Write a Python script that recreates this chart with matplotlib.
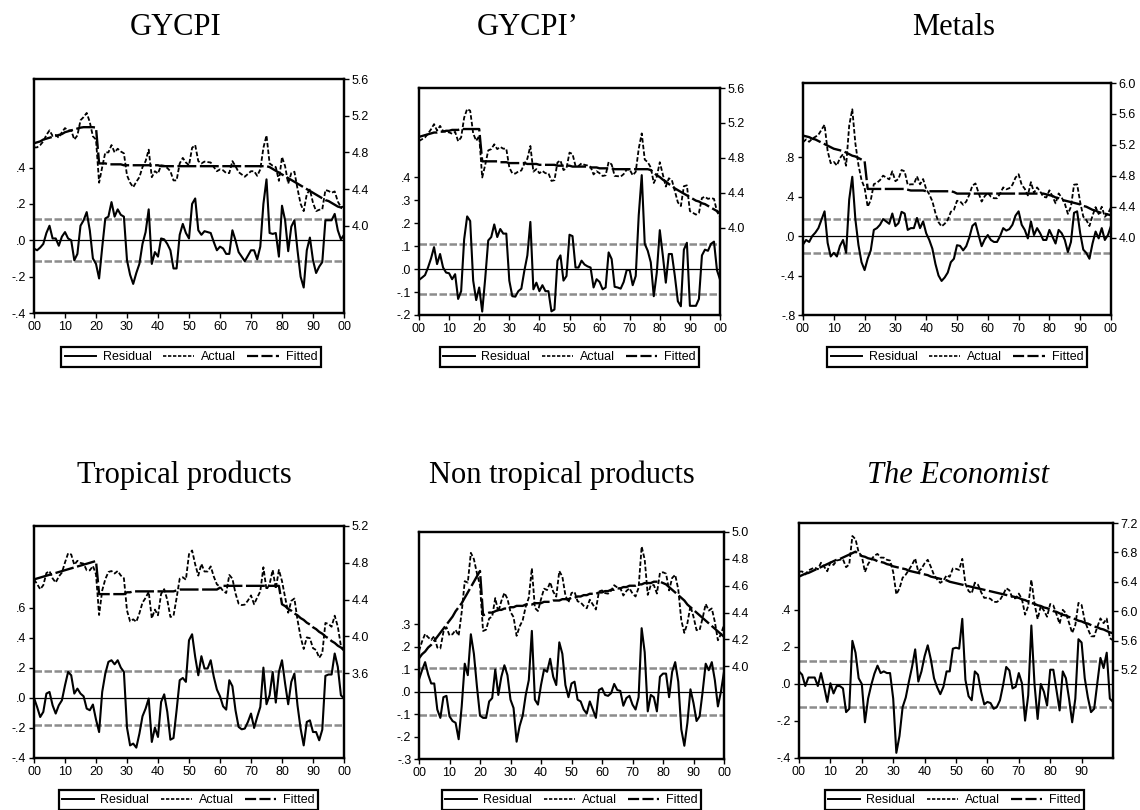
import numpy as np
import matplotlib
matplotlib.use("Agg")
import matplotlib.pyplot as plt
from matplotlib.ticker import FuncFormatter
from matplotlib.lines import Line2D

years = np.arange(1900, 2001)

# residuals (left axis) and fitted values (right axis)
gycpi_resid = [-0.046, -0.055, -0.040, -0.020, 0.040, 0.080, 0.010, 0.010, -0.030, 0.020,
               0.045, 0.010, 0.000, -0.110, -0.075, 0.080, 0.110, 0.155, 0.055, -0.100,
               -0.130, -0.210, -0.040, 0.120, 0.130, 0.210, 0.130, 0.170, 0.140, 0.130,
               -0.110, -0.190, -0.240, -0.180, -0.130, -0.020, 0.045, 0.170, -0.130, -0.065,
               -0.090, 0.010, 0.005, -0.020, -0.055, -0.155, -0.155, 0.030, 0.090, 0.040,
               0.010, 0.200, 0.230, 0.055, 0.030, 0.050, 0.045, 0.040, -0.010, -0.055,
               -0.035, -0.045, -0.075, -0.075, 0.055, 0.000, -0.065, -0.090, -0.115, -0.085,
               -0.055, -0.055, -0.105, -0.035, 0.200, 0.335, 0.040, 0.035, 0.040, -0.090,
               0.190, 0.110, -0.060, 0.075, 0.110, -0.055, -0.200, -0.260, -0.055, 0.015,
               -0.110, -0.180, -0.145, -0.120, 0.110, 0.110, 0.110, 0.145, 0.055, 0.005,
               0.030]
gycpi_fit = [4.90, 4.91, 4.92, 4.94, 4.95, 4.96, 4.97, 4.98, 4.99, 5.00,
             5.02, 5.03, 5.04, 5.05, 5.06, 5.07, 5.075, 5.075, 5.075, 5.075,
             5.07, 4.68, 4.68, 4.68, 4.67, 4.67, 4.67, 4.67, 4.67, 4.66,
             4.66, 4.66, 4.66, 4.66, 4.66, 4.66, 4.66, 4.66, 4.66, 4.66,
             4.66, 4.65, 4.65, 4.65, 4.65, 4.65, 4.65, 4.65, 4.65, 4.65,
             4.65, 4.65, 4.65, 4.65, 4.65, 4.65, 4.65, 4.65, 4.65, 4.65,
             4.65, 4.65, 4.65, 4.65, 4.65, 4.65, 4.65, 4.65, 4.65, 4.65,
             4.65, 4.65, 4.65, 4.65, 4.65, 4.65, 4.64, 4.62, 4.60, 4.58,
             4.56, 4.54, 4.52, 4.50, 4.48, 4.46, 4.44, 4.42, 4.40, 4.38,
             4.36, 4.34, 4.32, 4.30, 4.28, 4.27, 4.25, 4.23, 4.21, 4.20,
             4.18]

gycpi2_resid = [-0.047, -0.037, -0.026, 0.007, 0.047, 0.096, 0.022, 0.066, 0.007, -0.015,
                -0.018, -0.044, -0.022, -0.130, -0.096, 0.130, 0.230, 0.210, -0.050, -0.135,
                -0.080, -0.185, -0.040, 0.125, 0.140, 0.195, 0.140, 0.175, 0.155, 0.155,
                -0.050, -0.118, -0.120, -0.096, -0.085, -0.007, 0.060, 0.206, -0.088, -0.059,
                -0.096, -0.070, -0.096, -0.096, -0.184, -0.176, 0.037, 0.060, -0.050, -0.030,
                0.150, 0.144, 0.007, 0.007, 0.037, 0.020, 0.012, 0.007, -0.080, -0.044,
                -0.056, -0.088, -0.080, 0.073, 0.044, -0.077, -0.080, -0.085, -0.056, -0.004,
                -0.004, -0.070, -0.030, 0.235, 0.410, 0.110, 0.080, 0.030, -0.118, -0.015,
                0.170, 0.060, -0.059, 0.066, 0.066, -0.030, -0.140, -0.162, 0.085, 0.115,
                -0.160, -0.160, -0.160, -0.130, 0.060, 0.085, 0.080, 0.110, 0.120, -0.005,
                -0.045]
gycpi2_fit = [5.04, 5.05, 5.06, 5.07, 5.08, 5.09, 5.09, 5.10, 5.10, 5.11,
              5.11, 5.12, 5.12, 5.12, 5.13, 5.13, 5.13, 5.13, 5.13, 5.13,
              5.13, 4.76, 4.76, 4.76, 4.76, 4.76, 4.76, 4.75, 4.75, 4.75,
              4.74, 4.74, 4.74, 4.74, 4.74, 4.74, 4.73, 4.73, 4.73, 4.73,
              4.72, 4.72, 4.72, 4.72, 4.72, 4.72, 4.71, 4.71, 4.71, 4.71,
              4.71, 4.70, 4.70, 4.70, 4.70, 4.70, 4.70, 4.69, 4.69, 4.69,
              4.68, 4.68, 4.68, 4.68, 4.68, 4.67, 4.67, 4.67, 4.67, 4.67,
              4.67, 4.67, 4.67, 4.67, 4.67, 4.67, 4.67, 4.66, 4.63, 4.60,
              4.58, 4.55, 4.53, 4.50, 4.48, 4.45, 4.43, 4.41, 4.39, 4.37,
              4.35, 4.33, 4.31, 4.30, 4.28, 4.27, 4.25, 4.23, 4.21, 4.19,
              4.17]

metals_resid = [-0.086, -0.040, -0.060, 0.000, 0.034, 0.080, 0.165, 0.250, -0.070, -0.207,
                -0.170, -0.207, -0.100, -0.040, -0.170, 0.370, 0.600, 0.170, -0.090, -0.265,
                -0.345, -0.230, -0.145, 0.062, 0.080, 0.114, 0.172, 0.148, 0.124, 0.228,
                0.100, 0.130, 0.245, 0.228, 0.062, 0.080, 0.080, 0.183, 0.080, 0.148,
                0.028, -0.040, -0.128, -0.283, -0.400, -0.455, -0.420, -0.370, -0.265, -0.230,
                -0.093, -0.100, -0.145, -0.103, -0.014, 0.103, 0.131, 0.010, -0.103, -0.034,
                0.010, -0.040, -0.060, -0.060, 0.000, 0.080, 0.055, 0.070, 0.114, 0.207,
                0.250, 0.114, 0.062, -0.024, 0.148, 0.010, 0.080, 0.028, -0.040, -0.040,
                0.062, -0.007, -0.076, 0.062, 0.028, -0.040, -0.162, -0.060, 0.235, 0.250,
                0.028, -0.138, -0.172, -0.230, -0.076, 0.045, -0.024, 0.080, -0.040, 0.010,
                0.103]
metals_fit = [5.32, 5.31, 5.30, 5.28, 5.27, 5.25, 5.23, 5.21, 5.19, 5.17,
              5.15, 5.14, 5.13, 5.12, 5.10, 5.08, 5.06, 5.05, 5.03, 5.01,
              4.99, 4.63, 4.63, 4.63, 4.63, 4.63, 4.63, 4.63, 4.63, 4.63,
              4.63, 4.63, 4.63, 4.63, 4.62, 4.61, 4.61, 4.61, 4.61, 4.61,
              4.60, 4.60, 4.60, 4.60, 4.60, 4.60, 4.60, 4.60, 4.60, 4.59,
              4.57, 4.57, 4.57, 4.57, 4.57, 4.57, 4.57, 4.57, 4.57, 4.57,
              4.57, 4.57, 4.57, 4.57, 4.57, 4.57, 4.57, 4.57, 4.57, 4.57,
              4.57, 4.57, 4.57, 4.57, 4.57, 4.57, 4.57, 4.57, 4.57, 4.56,
              4.55, 4.54, 4.52, 4.51, 4.49, 4.48, 4.47, 4.46, 4.45, 4.44,
              4.43, 4.41, 4.40, 4.38, 4.36, 4.35, 4.33, 4.32, 4.31, 4.30,
              4.29]

tropical_resid = [0.000, -0.060, -0.127, -0.093, 0.029, 0.040, -0.049, -0.104, -0.049, -0.016,
                  0.084, 0.173, 0.151, 0.029, 0.062, 0.029, 0.011, -0.071, -0.082, -0.044,
                  -0.144, -0.227, 0.040, 0.162, 0.240, 0.251, 0.224, 0.251, 0.202, 0.173,
                  -0.198, -0.316, -0.304, -0.331, -0.238, -0.122, -0.071, -0.004, -0.293, -0.198,
                  -0.260, -0.027, 0.024, -0.093, -0.278, -0.267, -0.082, 0.118, 0.133, 0.107,
                  0.384, 0.424, 0.273, 0.151, 0.278, 0.196, 0.196, 0.251, 0.140, 0.056,
                  0.011, -0.056, -0.078, 0.118, 0.078, -0.082, -0.193, -0.209, -0.204, -0.160,
                  -0.104, -0.200, -0.127, -0.060, 0.202, -0.042, 0.018, 0.173, -0.031, 0.173,
                  0.251, 0.096, -0.042, 0.107, 0.162, -0.049, -0.204, -0.316, -0.160, -0.149,
                  -0.227, -0.227, -0.282, -0.211, 0.147, 0.156, 0.156, 0.296, 0.207, 0.018,
                  -0.004]
tropical_fit = [4.62, 4.63, 4.64, 4.65, 4.66, 4.67, 4.68, 4.69, 4.70, 4.71,
                4.72, 4.73, 4.74, 4.75, 4.76, 4.77, 4.78, 4.79, 4.80, 4.81,
                4.82, 4.46, 4.46, 4.46, 4.46, 4.46, 4.46, 4.46, 4.46, 4.46,
                4.48, 4.48, 4.49, 4.49, 4.49, 4.49, 4.49, 4.49, 4.49, 4.49,
                4.49, 4.49, 4.49, 4.49, 4.49, 4.49, 4.50, 4.51, 4.51, 4.51,
                4.51, 4.51, 4.51, 4.51, 4.51, 4.51, 4.51, 4.51, 4.51, 4.51,
                4.53, 4.55, 4.55, 4.55, 4.55, 4.55, 4.55, 4.55, 4.55, 4.55,
                4.55, 4.55, 4.55, 4.55, 4.55, 4.55, 4.55, 4.55, 4.55, 4.55,
                4.35, 4.33, 4.30, 4.28, 4.25, 4.23, 4.20, 4.18, 4.15, 4.13,
                4.10, 4.08, 4.05, 4.03, 4.00, 3.98, 3.95, 3.93, 3.90, 3.88,
                3.85]

nontrop_resid = [0.054, 0.095, 0.131, 0.076, 0.036, 0.036, -0.080, -0.117, -0.025, -0.019,
                 -0.110, -0.131, -0.139, -0.212, -0.066, 0.124, 0.073, 0.255, 0.168, 0.022,
                 -0.107, -0.117, -0.117, -0.044, -0.029, 0.098, -0.015, 0.066, 0.117, 0.073,
                 -0.036, -0.073, -0.223, -0.153, -0.107, -0.015, 0.051, 0.270, -0.036, -0.058,
                 0.029, 0.098, 0.088, 0.146, 0.066, 0.029, 0.219, 0.168, 0.029, -0.025,
                 0.036, 0.044, -0.036, -0.044, -0.080, -0.098, -0.044, -0.080, -0.117, 0.007,
                 0.015, -0.015, -0.019, -0.007, 0.034, 0.007, 0.003, -0.063, -0.029, -0.019,
                 -0.058, -0.080, -0.025, 0.282, 0.175, -0.088, -0.015, -0.025, -0.088, 0.066,
                 0.080, 0.080, -0.025, 0.088, 0.131, 0.044, -0.168, -0.241, -0.139, 0.010,
                 -0.051, -0.131, -0.110, 0.000, 0.124, 0.095, 0.131, 0.051, -0.066, 0.000,
                 0.088]
nontrop_fit = [4.06, 4.09, 4.11, 4.14, 4.16, 4.19, 4.22, 4.25, 4.28, 4.31,
               4.34, 4.37, 4.41, 4.44, 4.47, 4.51, 4.55, 4.59, 4.63, 4.67,
               4.71, 4.38, 4.39, 4.40, 4.40, 4.41, 4.42, 4.42, 4.43, 4.43,
               4.44, 4.44, 4.45, 4.45, 4.45, 4.46, 4.46, 4.46, 4.47, 4.47,
               4.47, 4.48, 4.48, 4.48, 4.49, 4.49, 4.49, 4.50, 4.50, 4.50,
               4.51, 4.51, 4.52, 4.52, 4.53, 4.53, 4.54, 4.54, 4.54, 4.55,
               4.55, 4.56, 4.56, 4.57, 4.57, 4.58, 4.58, 4.59, 4.59, 4.60,
               4.60, 4.60, 4.61, 4.61, 4.62, 4.62, 4.62, 4.63, 4.63, 4.63,
               4.62, 4.61, 4.59, 4.57, 4.55, 4.53, 4.51, 4.49, 4.46, 4.44,
               4.42, 4.40, 4.38, 4.36, 4.34, 4.32, 4.30, 4.28, 4.26, 4.24,
               4.22]

econ_resid = [0.068, 0.050, -0.011, 0.035, 0.035, 0.035, -0.011, 0.059, -0.015, -0.097,
              0.004, -0.051, -0.011, -0.011, -0.024, -0.152, -0.134, 0.233, 0.169, 0.031,
              0.000, -0.207, -0.079, -0.006, 0.055, 0.099, 0.059, 0.068, 0.059, 0.059,
              -0.079, -0.372, -0.281, -0.125, -0.073, 0.013, 0.092, 0.187, 0.013, 0.068,
              0.150, 0.209, 0.132, 0.031, -0.018, -0.055, -0.015, 0.068, 0.068, 0.191,
              0.196, 0.191, 0.352, 0.022, -0.066, -0.088, 0.068, 0.050, -0.042, -0.110,
              -0.097, -0.103, -0.134, -0.125, -0.088, -0.006, 0.092, 0.073, -0.024, -0.015,
              0.059, 0.004, -0.198, -0.061, 0.316, 0.000, -0.189, 0.000, -0.042, -0.116,
              0.077, 0.077, -0.033, -0.143, 0.068, 0.031, -0.079, -0.207, -0.079, 0.242,
              0.224, 0.031, -0.073, -0.152, -0.134, 0.004, 0.141, 0.086, 0.169, -0.079,
              -0.097]
econ_fit = [6.47, 6.49, 6.51, 6.52, 6.54, 6.56, 6.58, 6.60, 6.62, 6.64,
            6.66, 6.68, 6.70, 6.71, 6.73, 6.75, 6.77, 6.79, 6.81, 6.77,
            6.75, 6.74, 6.72, 6.71, 6.70, 6.68, 6.67, 6.66, 6.64, 6.63,
            6.61, 6.60, 6.59, 6.58, 6.57, 6.55, 6.54, 6.53, 6.52, 6.51,
            6.50, 6.49, 6.47, 6.46, 6.45, 6.44, 6.43, 6.42, 6.40, 6.39,
            6.38, 6.37, 6.36, 6.35, 6.34, 6.33, 6.32, 6.31, 6.30, 6.29,
            6.28, 6.27, 6.26, 6.25, 6.24, 6.23, 6.22, 6.21, 6.20, 6.19,
            6.18, 6.16, 6.15, 6.13, 6.11, 6.10, 6.08, 6.07, 6.05, 6.04,
            6.02, 6.00, 5.99, 5.97, 5.95, 5.94, 5.92, 5.91, 5.89, 5.87,
            5.86, 5.84, 5.83, 5.81, 5.79, 5.78, 5.76, 5.75, 5.73, 5.71,
            5.70]

titles = ["GYCPI", "GYCPI\u2019", "Metals",
          "Tropical products", "Non tropical products", "The Economist"]
std_err = [0.115, 0.11, 0.175, 0.18, 0.106, 0.125]
resids = [gycpi_resid, gycpi2_resid, metals_resid, tropical_resid, nontrop_resid, econ_resid]
fits = [gycpi_fit, gycpi2_fit, metals_fit, tropical_fit, nontrop_fit, econ_fit]

left_ticks = [[-0.4, -0.2, 0.0, 0.2, 0.4],
              [-0.2, -0.1, 0.0, 0.1, 0.2, 0.3, 0.4],
              [-0.8, -0.4, 0.0, 0.4, 0.8],
              [-0.4, -0.2, 0.0, 0.2, 0.4, 0.6],
              [-0.3, -0.2, -0.1, 0.0, 0.1, 0.2, 0.3],
              [-0.4, -0.2, 0.0, 0.2, 0.4]]
right_ticks = [[4.0, 4.4, 4.8, 5.2, 5.6],
               [4.0, 4.4, 4.8, 5.2, 5.6],
               [4.0, 4.4, 4.8, 5.2, 5.6, 6.0],
               [3.6, 4.0, 4.4, 4.8, 5.2],
               [4.0, 4.2, 4.4, 4.6, 4.8, 5.0],
               [5.2, 5.6, 6.0, 6.4, 6.8, 7.2]]
left_lims = [(-0.4, 0.887), (-0.2, 0.79), (-0.8, 1.55), (-0.4, 1.145), (-0.3, 0.71), (-0.4, 0.87)]
right_lims = [(3.05, 5.6), (3.0, 5.6), (3.0, 6.0), (2.68, 5.2), (3.31, 5.0), (4.0, 7.2)]
x_ticks = [list(range(1900, 2001, 10))] * 5 + [list(range(1900, 1991, 10))]

# layout in pixels: (left, right, top, bottom), legend box, title centre / baseline
W, H = 1140, 810
axes_px = [(34, 344, 79, 313), (419, 720, 88, 315), (803, 1111, 83, 315),
           (34, 344, 526, 758), (419, 724, 532, 759), (799, 1113, 523, 758)]
legend_px = [(64, 318, 347, 367), (448, 691, 347, 367), (833, 1081, 347, 367),
             (64, 313, 791, 809), (448, 695, 791, 809), (828, 1081, 791, 809)]
title_px = [(176, 35), (528, 35), (954, 35), (184, 483), (562, 483), (958, 483)]

plt.rcParams['font.family'] = ['Liberation Sans', 'DejaVu Sans']

fig = plt.figure(figsize=(W / 100, H / 100), dpi=100)


def left_fmt(v, pos):
    return f"{v:.1f}".replace("0.", ".")


for i in range(6):
    l, r, t, b = axes_px[i]
    ax = fig.add_axes([l / W, 1 - b / H, (r - l) / W, (b - t) / H])
    ax2 = ax.twinx()

    resid = np.array(resids[i])
    fitted = np.array(fits[i])
    actual = fitted + resid  # residual = actual - fitted

    ax.axhline(0, color="black", lw=0.9, zorder=1)
    ax.axhline(std_err[i], color="#8c8c8c", lw=1.8, ls=(0, (3, 1)), zorder=1)
    ax.axhline(-std_err[i], color="#8c8c8c", lw=1.8, ls=(0, (3, 1)), zorder=1)
    ax.plot(years, resid, color="black", lw=1.5, zorder=3)
    ax2.plot(years, actual, color="black", lw=1.3, ls=(0, (2.5, 1.2)))
    ax2.plot(years, fitted, color="black", lw=1.7, ls=(0, (8, 1.5)))

    ax.set_xlim(1900, 2000)
    ax.set_ylim(*left_lims[i])
    ax2.set_ylim(*right_lims[i])
    ax.set_yticks(left_ticks[i])
    ax2.set_yticks(right_ticks[i])
    ax.set_xticks(x_ticks[i])
    ax.yaxis.set_major_formatter(FuncFormatter(left_fmt))
    ax2.yaxis.set_major_formatter(FuncFormatter(lambda v, p: f"{v:.1f}"))
    ax.xaxis.set_major_formatter(FuncFormatter(lambda v, p: f"{int(round(v)) % 100:02d}"))

    ax.tick_params(axis="both", direction="out", length=3.5, width=1, labelsize=9, pad=2)
    ax2.tick_params(axis="y", direction="out", length=3.5, width=1, labelsize=9, pad=2)
    for a in (ax, ax2):
        for sp in a.spines.values():
            sp.set_linewidth(1.6)

    # legend box below each panel
    ll, lr, lt, lb = legend_px[i]
    leg = ax.legend([Line2D([], [], color="black", lw=1.4),
                     Line2D([], [], color="black", lw=1.2, ls=(0, (2, 1))),
                     Line2D([], [], color="black", lw=1.6, ls=(0, (5, 1.5)))],
                    ["Residual", "Actual", "Fitted"],
                    loc="center", bbox_to_anchor=((ll + lr) / 2 / W, 1 - (lt + lb) / 2 / H),
                    bbox_transform=fig.transFigure, ncol=3,
                    borderaxespad=0, fancybox=False, edgecolor="black", framealpha=1,
                    fontsize=9, handlelength=2.5, handletextpad=0.55,
                    columnspacing=0.9, borderpad=0.3)
    leg.get_frame().set_linewidth(1.6)

    tx, ty = title_px[i]
    fig.text(tx / W, 1 - ty / H, titles[i], ha="center", va="baseline", fontsize=22,
             family="Liberation Serif", style="italic" if i == 5 else "normal")

fig.savefig("out.png", dpi=100)
